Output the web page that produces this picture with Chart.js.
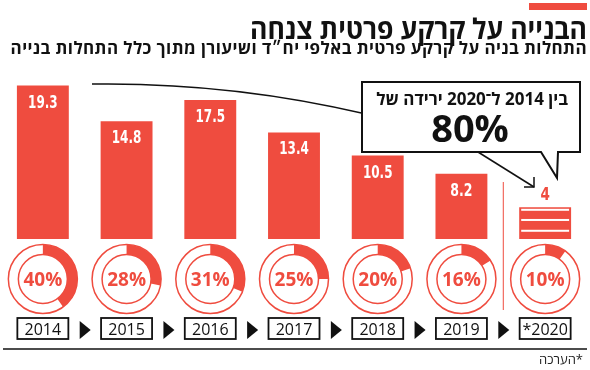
<!DOCTYPE html>
<html><head><meta charset="utf-8">
<script src="https://cdn.jsdelivr.net/npm/chart.js@4"></script>
<style>
body{margin:0;background:#fff;width:590px;height:370px;overflow:hidden;}
canvas{display:block;}
</style></head><body>
<canvas id="c" width="590" height="370"></canvas>
<script>
const years = ['2014','2015','2016','2017','2018','2019','*2020'];
const starts = [19.3, 14.8, 17.5, 13.4, 10.5, 8.2, 4];
const shares = [40, 28, 31, 25, 20, 16, 10];
const titleText = 'הבנייה על קרקע פרטית צנחה';
const subtitleText = 'התחלות בניה על קרקע פרטית באלפי יח״ד ושיעורן מתוך כלל התחלות בנייה';
const calloutLine1 = 'בין 2014 ל־2020 ירידה של';
const calloutLine2 = '80%';
const noteText = '*הערכה';

const RED = '#ef4c3f';
const HEB = '"Open Sans","Liberation Sans","DejaVu Sans",sans-serif';

const deco = {
  id: 'deco',
  afterDatasetsDraw(chart) {
    const ctx = chart.ctx;
    const meta = chart.getDatasetMeta(0);
    const n = meta.data.length;
    ctx.save();
    // title
    ctx.direction = 'rtl';
    ctx.textAlign = 'right';
    ctx.fillStyle = RED;
    ctx.fillRect(529, 3, 58, 7);
    ctx.fillStyle = '#111';
    ctx.font = 'bold 28px ' + HEB;
    ctx.fillText(titleText, 587, 39, 337);
    ctx.font = 'bold 17px ' + HEB;
    ctx.letterSpacing = '0.4px';
    ctx.fillText(subtitleText, 587, 54, 579);
    ctx.letterSpacing = '0px';
    ctx.font = '13px ' + HEB;
    ctx.fillStyle = '#222';
    ctx.fillText(noteText, 583, 364);
    ctx.direction = 'ltr';

    // stripes on estimated bar
    const last = meta.data[n - 1];
    const h = last.base - last.y, w = last.width;
    ctx.fillStyle = '#fff';
    [0.05, 0.37, 0.71].forEach(f => ctx.fillRect(last.x - w / 2 + 2, last.y + h * f, w - 4, 2));

    // value labels
    ctx.textAlign = 'center';
    ctx.font = 'bold 18px "Liberation Sans Narrow","DejaVu Sans Condensed",sans-serif';
    meta.data.forEach((b, i) => {
      const s = String(starts[i]);
      const mw = s.length * 7.4;
      if (i < n - 1) { ctx.fillStyle = '#fff'; ctx.fillText(s, b.x, b.y + 22, mw); }
      else { ctx.fillStyle = RED; ctx.fillText(s, b.x, b.y - 7, mw + 2); }
    });

    // divider
    const xs = chart.scales.x;
    const divX = (xs.getPixelForValue(n - 2) + xs.getPixelForValue(n - 1)) / 2;
    ctx.strokeStyle = RED; ctx.lineWidth = 1;
    ctx.beginPath(); ctx.moveTo(divX, 182); ctx.lineTo(divX, 310); ctx.stroke();

    // donuts
    const cy = 279, ro = 34.5, ri = 24.5;
    shares.forEach((p, i) => {
      const cx = xs.getPixelForValue(i);
      ctx.strokeStyle = RED; ctx.lineWidth = 1.5;
      ctx.beginPath(); ctx.arc(cx, cy, ro, 0, Math.PI * 2); ctx.stroke();
      ctx.beginPath(); ctx.arc(cx, cy, ri, 0, Math.PI * 2); ctx.stroke();
      const a0 = -Math.PI / 2, a1 = a0 + Math.PI * 2 * p / 100;
      ctx.fillStyle = RED;
      ctx.beginPath(); ctx.arc(cx, cy, ro, a0, a1); ctx.arc(cx, cy, ri, a1, a0, true); ctx.closePath(); ctx.fill();
      ctx.font = 'bold 19px "Open Sans",sans-serif';
      ctx.fillText(p + '%', cx, cy + 7);
    });

    // year boxes and arrows
    ctx.fillStyle = '#111'; ctx.strokeStyle = '#111'; ctx.lineWidth = 1.8;
    years.forEach((y, i) => {
      const cx = xs.getPixelForValue(i);
      ctx.strokeRect(cx - 25.5, 318, 51, 21);
      ctx.font = '500 16px "Open Sans",sans-serif';
      ctx.fillText(y, cx, 335);
      if (i > 0) {
        const mx = (xs.getPixelForValue(i - 1) + cx) / 2;
        ctx.beginPath(); ctx.moveTo(mx - 5, 321); ctx.lineTo(mx - 5, 339); ctx.lineTo(mx + 6, 330); ctx.closePath(); ctx.fill();
      }
    });
    ctx.lineWidth = 1.5;
    ctx.beginPath(); ctx.moveTo(3, 349); ctx.lineTo(587, 349); ctx.stroke();

    // connector curve + arrow
    ctx.strokeStyle = '#111'; ctx.lineWidth = 1.5;
    ctx.beginPath(); ctx.moveTo(92, 84); ctx.quadraticCurveTo(230, 82, 366, 114); ctx.stroke();
    ctx.beginPath(); ctx.moveTo(470, 147); ctx.lineTo(534, 187); ctx.stroke();
    ctx.beginPath(); ctx.moveTo(524, 187); ctx.lineTo(534, 187); ctx.lineTo(534, 177); ctx.stroke();

    // callout box
    ctx.lineWidth = 2;
    ctx.fillStyle = '#fff';
    ctx.beginPath();
    ctx.moveTo(362, 82); ctx.lineTo(580, 82); ctx.lineTo(580, 152); ctx.lineTo(558, 152);
    ctx.lineTo(557, 178); ctx.lineTo(541, 152); ctx.lineTo(362, 152); ctx.closePath();
    ctx.fill(); ctx.stroke();
    ctx.fillStyle = '#111';
    ctx.direction = 'rtl'; ctx.textAlign = 'right';
    ctx.font = 'bold 17px ' + HEB;
    ctx.fillText(calloutLine1, 568, 105, 195);
    ctx.direction = 'ltr'; ctx.textAlign = 'center';
    ctx.font = 'bold 38px ' + HEB;
    ctx.fillText(calloutLine2, 470, 142);
    ctx.restore();
  }
};

new Chart(document.getElementById('c'), {
  type: 'bar',
  data: {
    labels: years,
    datasets: [{ data: starts, backgroundColor: RED, borderWidth: 0, barPercentage: 0.62, categoryPercentage: 1 }]
  },
  options: {
    responsive: false, animation: false,
    layout: { padding: { left: 1, right: 3, top: 80, bottom: 131 } },
    plugins: { legend: { display: false }, tooltip: { enabled: false }, title: { display: false } },
    scales: {
      x: { display: false },
      y: { display: false, min: 0, max: 20 }
    }
  },
  plugins: [deco]
});
</script>
</body></html>
